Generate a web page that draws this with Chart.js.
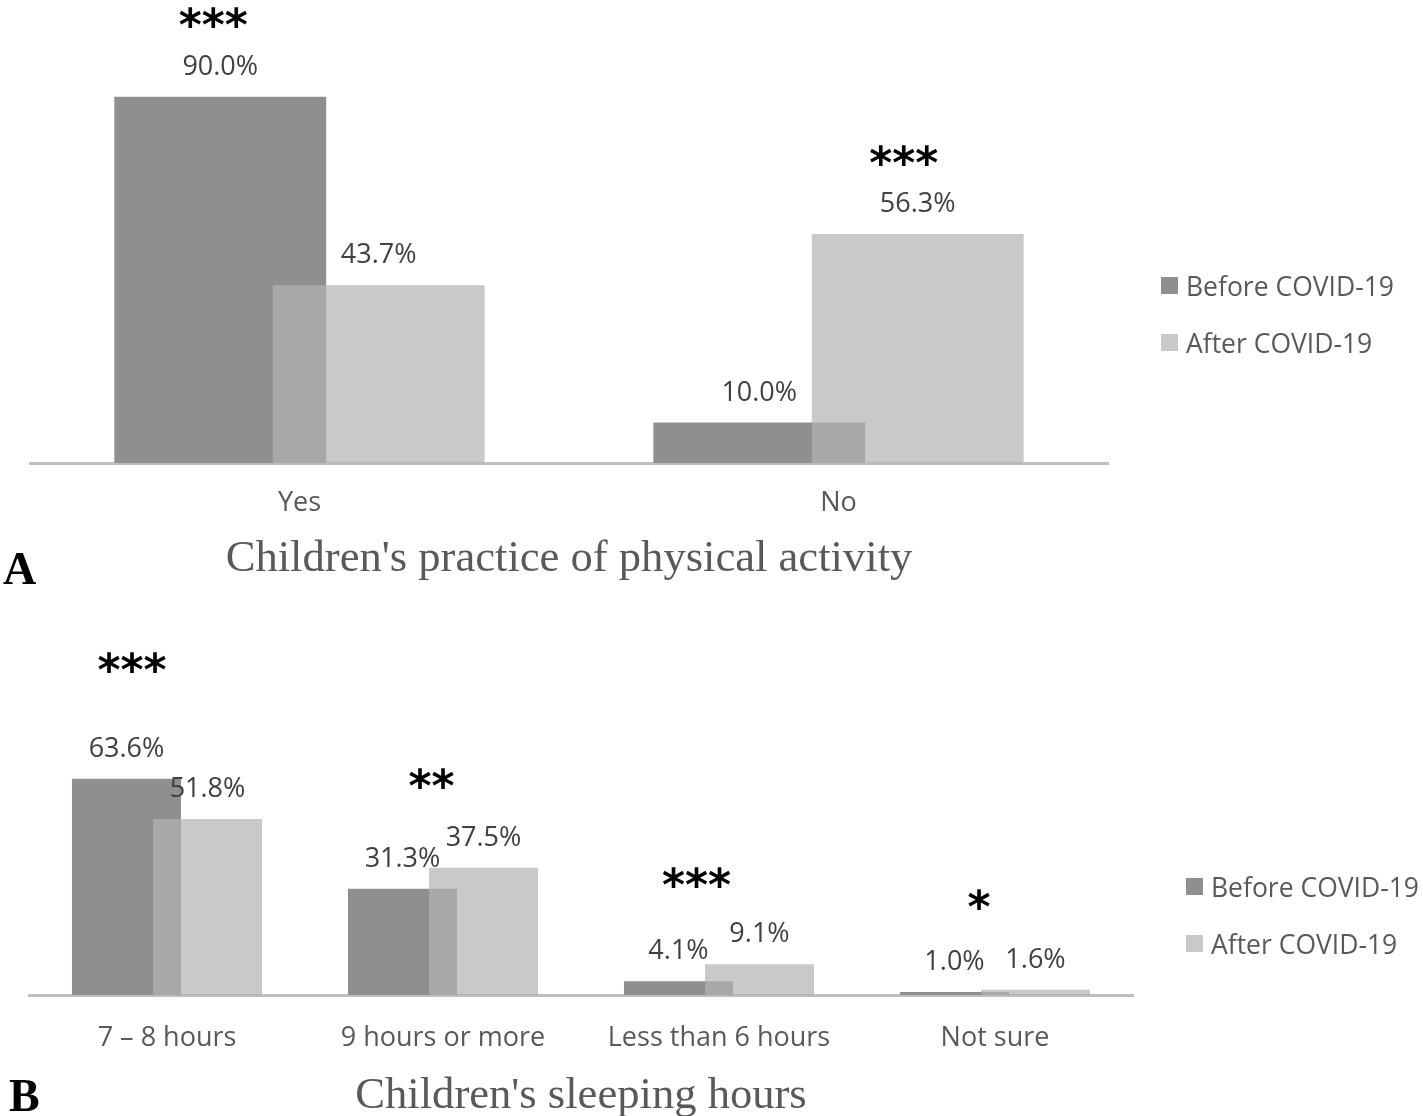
<!DOCTYPE html>
<html>
<head>
<meta charset="utf-8">
<title>COVID-19 children activity and sleep</title>
<script src="https://cdn.jsdelivr.net/npm/chart.js@4.4.1/dist/chart.umd.min.js"></script>
<style>
  html, body { margin: 0; padding: 0; background: #fff; overflow: hidden; }
  body { width: 1423px; height: 1116px; position: relative; font-family: "Open Sans", sans-serif; }
  .panel { position: absolute; left: 0; width: 1423px; }
  #boxA { top: 0; height: 600px; }
  #boxB { top: 600px; height: 523px; }
  .legend { position: absolute; color: #595959; font-size: 26.5px; }
  .legend .item { position: absolute; left: 0; white-space: nowrap; height: 34px; line-height: 34px; }
  .legend .swatch { position: absolute; left: 0; top: 8px; width: 17px; height: 17px; }
  .legend .txt { position: absolute; left: 25px; top: 0; }
  .letter { position: absolute; font-family: "Liberation Serif", serif; font-weight: bold;
            font-size: 46px; line-height: 46px; color: #000; }
</style>
</head>
<body>
<div class="panel" id="boxA"><canvas id="chartA"></canvas></div>
<div class="panel" id="boxB"><canvas id="chartB"></canvas></div>
<div class="legend" id="legendA" style="left:1161px; top:269px;"></div>
<div class="legend" id="legendB" style="left:1186px; top:870px;"></div>
<div class="letter" style="left:3px; top:546px;">A</div>
<div class="letter" style="left:9px; top:1073px;">B</div>

<script>
/* ---- data ---- */
const catsA   = ["Yes", "No"];
const beforeA = [90.0, 10.0];
const afterA  = [43.7, 56.3];
const sigA    = ["***", "***"];

const catsB   = ["7 – 8 hours", "9 hours or more", "Less than 6 hours", "Not sure"];
const beforeB = [63.6, 31.3, 4.1, 1.0];
const afterB  = [51.8, 37.5, 9.1, 1.6];
const sigB    = ["***", "**", "***", "*"];

const seriesNames = ["Before COVID-19", "After COVID-19"];

/* ---- style ---- */
const BEFORE_COL = "#8f8f8f";
const AFTER_COL  = "rgba(178,178,178,0.705)";   // see-through so the overlap reads darker

Chart.defaults.font.family = "'Open Sans', sans-serif";

// After bars sit on top of Before bars, then value labels and stars
const overlapPlugin = {
  id: "overlap",
  beforeDatasetDraw(chart, args) {
    if (args.index === 1) return false;
  },
  afterDatasetsDraw(chart, args, opts) {
    const ctx = chart.ctx;
    chart.getDatasetMeta(1).controller.draw();

    ctx.save();
    ctx.textAlign = "center";
    ctx.textBaseline = "alphabetic";
    ctx.font = "27px 'Open Sans'";
    ctx.fillStyle = "#404040";
    chart.data.datasets.forEach((ds, i) => {
      chart.getDatasetMeta(i).data.forEach((bar, j) => {
        ctx.fillText(ds.data[j].toFixed(1) + "%", bar.x, bar.y - 22);
      });
    });

    // significance marks, over the taller bar of each group
    ctx.font = "bold 44px 'DejaVu Sans'";
    ctx.fillStyle = "#000";
    const d0 = chart.data.datasets[0].data, d1 = chart.data.datasets[1].data;
    opts.marks.forEach((txt, j) => {
      const k = d1[j] > d0[j] ? 1 : 0;
      const bar = chart.getDatasetMeta(k).data[j];
      const [dx, dy] = opts.nudge[j];
      ctx.fillText(txt, bar.x + dx, bar.y - dy);
    });
    ctx.restore();
  }
};

function makeChart(id, cats, before, after, cfg) {
  return new Chart(document.getElementById(id), {
    type: "bar",
    data: {
      labels: cats,
      datasets: [
        { label: seriesNames[0], data: before, backgroundColor: BEFORE_COL, borderWidth: 0,
          categoryPercentage: cfg.catPct, barPercentage: cfg.barPct },
        { label: seriesNames[1], data: after, backgroundColor: AFTER_COL, borderWidth: 0,
          categoryPercentage: cfg.catPct, barPercentage: cfg.barPct }
      ]
    },
    options: {
      responsive: true,
      maintainAspectRatio: false,
      animation: false,
      events: [],
      layout: { padding: cfg.pad },
      scales: {
        x: {
          grid: { display: false, drawTicks: false },
          border: { display: true, color: "#bfbfbf", width: 3 },
          ticks: { color: "#595959", font: { size: 27 }, padding: cfg.tickPad },
          title: {
            display: true, text: cfg.title, color: "#595959",
            font: { family: "'Liberation Serif', serif", size: 44.6 },
            padding: cfg.titlePad
          }
        },
        y: { display: false, min: 0, max: cfg.yMax }
      },
      plugins: {
        legend: { display: false },
        tooltip: { enabled: false },
        overlap: { marks: cfg.marks, nudge: cfg.nudge }
      }
    },
    plugins: [overlapPlugin]
  });
}

function buildLegend(chart, elId) {
  const box = document.getElementById(elId);
  chart.data.datasets.forEach((ds, i) => {
    const item = document.createElement("div");
    item.className = "item";
    item.style.top = (i * 57) + "px";
    const sw = document.createElement("div");
    sw.className = "swatch";
    sw.style.background = ds.backgroundColor;
    const t = document.createElement("span");
    t.className = "txt";
    t.textContent = ds.label;
    item.appendChild(sw);
    item.appendChild(t);
    box.appendChild(item);
  });
}

const chartA = makeChart("chartA", catsA, beforeA, afterA, {
  catPct: 0.588, barPct: 1.337,
  pad: { left: 30, right: 315, top: 56, bottom: 13.6 },
  yMax: 100, tickPad: 24,
  title: "Children's practice of physical activity",
  titlePad: { top: -10.8, bottom: 0 },
  marks: sigA,
  nudge: [[-7, 56.5], [-14, 56]]
});

const chartB = makeChart("chartB", catsB, beforeB, afterB, {
  catPct: 0.587, barPct: 1.346,
  pad: { left: 29, right: 290, top: 123, bottom: 0 },
  yMax: 80, tickPad: 27,
  title: "Children's sleeping hours",
  titlePad: { top: -12.2, bottom: 0 },
  marks: sigB,
  nudge: [[5.5, 93.5], [-52, 67], [-63, 64.5], [-56.5, 68]]
});

buildLegend(chartA, "legendA");
buildLegend(chartB, "legendB");
</script>
</body>
</html>
